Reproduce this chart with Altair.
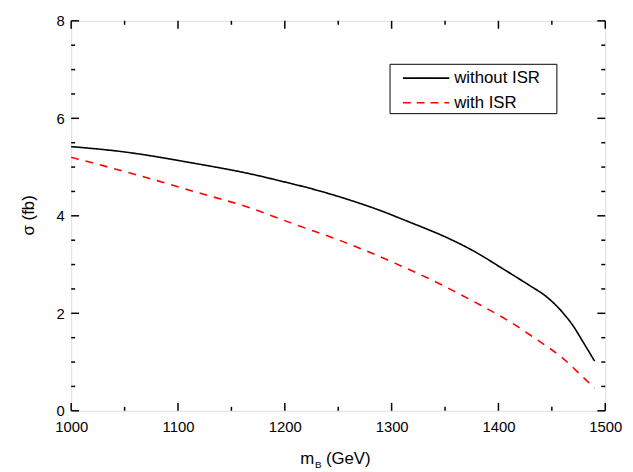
import altair as alt
import pandas as pd

# ---- data ----
series_names = ["without ISR", "with ISR"]
series_colors = ["black", "red"]

x_without = [1000, 1050, 1112, 1174, 1195, 1226, 1257, 1288, 1318, 1334, 1352, 1368,
             1383, 1400, 1414, 1430, 1445, 1460, 1470, 1479, 1490]
y_without = [5.42, 5.31, 5.09, 4.83, 4.72, 4.55, 4.35, 4.12, 3.86, 3.72, 3.55, 3.38,
             3.20, 2.97, 2.78, 2.56, 2.34, 2.02, 1.74, 1.42, 1.02]

x_with = [1000, 1007, 1063, 1118, 1165, 1210, 1257, 1303, 1349, 1357, 1383, 1409,
          1434, 1459, 1485, 1490]
y_with = [5.20, 5.16, 4.83, 4.48, 4.18, 3.82, 3.45, 3.03, 2.56, 2.47, 2.17, 1.85,
          1.49, 1.10, 0.57, 0.47]

x_major = [1000, 1100, 1200, 1300, 1400, 1500]
x_minor = [1050, 1150, 1250, 1350, 1450]
y_major = [0, 2, 4, 6, 8]
y_minor = [0.5, 1, 1.5, 2.5, 3, 3.5, 4.5, 5, 5.5, 6.5, 7, 7.5]

W, H = 541, 395
FONT = "Liberation Sans"

df = pd.concat([
    pd.DataFrame({"m": x_without, "s": y_without, "series": series_names[0]}),
    pd.DataFrame({"m": x_with, "s": y_with, "series": series_names[1]}),
])

xscale = alt.Scale(domain=[1000, 1500], nice=False, zero=False)
yscale = alt.Scale(domain=[0, 8], nice=False)

xaxis = alt.Axis(values=x_major, title=None, ticks=False, domain=False, grid=False,
                 labelFontSize=15, labelPadding=9, labelFont=FONT, labelColor="black",
                 format="d", labelFlush=False)
yaxis = alt.Axis(values=y_major, title=None, ticks=False, domain=False, grid=False,
                 labelFontSize=15, labelPadding=7, labelFont=FONT, labelColor="black",
                 labelFlush=False)

lines = alt.Chart(df).mark_line(strokeWidth=1.6, interpolate="monotone").encode(
    x=alt.X("m:Q", scale=xscale, axis=xaxis),
    y=alt.Y("s:Q", scale=yscale, axis=yaxis),
    color=alt.Color("series:N", scale=alt.Scale(domain=series_names, range=series_colors), legend=None),
    strokeDash=alt.StrokeDash("series:N", scale=alt.Scale(domain=series_names, range=[[1, 0], [8, 7]]), legend=None),
)

def xticks(vals, length):
    d = pd.DataFrame({"m": vals})
    bottom = alt.Chart(d).mark_rule(color="black", strokeWidth=1.5).encode(
        x=alt.X("m:Q", scale=xscale, axis=xaxis), y=alt.value(H), y2=alt.value(H - length))
    top = alt.Chart(d).mark_rule(color="black", strokeWidth=1.5).encode(
        x=alt.X("m:Q", scale=xscale, axis=xaxis), y=alt.value(0), y2=alt.value(length))
    return [bottom, top]

def yticks(vals, length):
    d = pd.DataFrame({"s": vals})
    left = alt.Chart(d).mark_rule(color="black", strokeWidth=1.5).encode(
        y=alt.Y("s:Q", scale=yscale, axis=yaxis), x=alt.value(0), x2=alt.value(length))
    right = alt.Chart(d).mark_rule(color="black", strokeWidth=1.5).encode(
        y=alt.Y("s:Q", scale=yscale, axis=yaxis), x=alt.value(W), x2=alt.value(W - length))
    return [left, right]

ticks = xticks(x_major, 8) + xticks(x_minor, 4) + yticks(y_major, 8) + yticks(y_minor, 4)

one = pd.DataFrame({"k": [0]})

def label(txt, x, y, size=17, align="left", baseline="alphabetic", angle=0):
    return alt.Chart(one).mark_text(text=txt, font=FONT, fontSize=size, color="black",
                                    align=align, baseline=baseline, angle=angle).encode(
        x=alt.value(x), y=alt.value(y))

titles = [
    label("m", 232, 449),
    label("B", 247, 453, size=10),
    label("(GeV)", 258, 449),
    label("σ (fb)", -43, 197, align="center", baseline="middle", angle=270),
]

# legend
box = alt.Chart(one).mark_rect(fill="white", stroke="black", strokeWidth=1).encode(
    x=alt.value(323), x2=alt.value(492), y=alt.value(44), y2=alt.value(94))
leg = [box]
for i, (name, col, dash) in enumerate(zip(series_names, series_colors, [[1, 0], [8, 6]])):
    yy = 58 + 25 * i
    leg.append(alt.Chart(one).mark_rule(color=col, strokeWidth=1.6, strokeDash=dash).encode(
        x=alt.value(336), x2=alt.value(383), y=alt.value(yy)))
    leg.append(label(name, 388, yy, size=17, baseline="middle"))

chart = alt.layer(lines, *ticks, *leg, *titles).properties(
    width=W, height=H,
    autosize=alt.AutoSizeParams(type="none"),
    padding={"left": 64, "top": 10, "right": 20, "bottom": 60},
).configure_view(stroke="black", strokeWidth=2).configure(font=FONT)

chart.save("out.html", embed_options={"renderer": "svg", "actions": False})
